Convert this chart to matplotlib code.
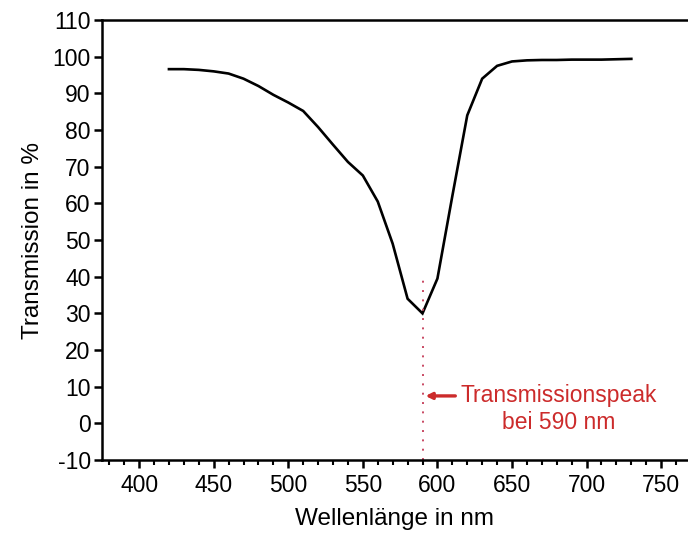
import numpy as np
import matplotlib.pyplot as plt
from matplotlib.ticker import MultipleLocator

plt.rcParams['font.family'] = ['Liberation Sans', 'DejaVu Sans']
plt.rcParams['axes.unicode_minus'] = False

# Transmission spectrum
wavelength = [420, 430, 440, 450, 460, 470, 480, 490, 500, 510, 520, 530, 540,
              550, 560, 570, 580, 590, 600, 610, 620, 630, 640, 650, 660, 670,
              680, 690, 700, 710, 720, 730]
transmission = [96.6, 96.6, 96.4, 96.0, 95.4, 94.0, 92.0, 89.6, 87.5, 85.2, 80.8,
                76.0, 71.3, 67.6, 60.5, 49.0, 34.0, 30.0, 39.5, 62.0, 84.0, 94.0,
                97.5, 98.7, 99.0, 99.1, 99.1, 99.2, 99.2, 99.2, 99.3, 99.4]

peak_nm = 590
peak_line_top = 40
label_lines = ["Transmissionspeak", "bei 590 nm"]

fig = plt.figure(figsize=(6.88, 5.35), dpi=100)
ax = fig.add_axes([0.148, 0.140, 0.852, 0.8226])

ax.plot(wavelength, transmission, color='black', lw=1.9, solid_joinstyle='miter')
ax.plot([peak_nm, peak_nm], [-10, peak_line_top], color='#c84862', lw=1.4,
        ls=(0, (1, 3.8)))

ax.annotate('', xy=(peak_nm + 2, 7.5), xytext=(612, 7.5),
            arrowprops=dict(arrowstyle='-|>', color='#cc2b2b', lw=2.4,
                            mutation_scale=9, shrinkA=0, shrinkB=0))
ax.text(681, 7.5, label_lines[0], color='#cc2b2b', fontsize=16.5,
        ha='center', va='center')
ax.text(681, 0.2, label_lines[1], color='#cc2b2b', fontsize=16.5,
        ha='center', va='center')

ax.set_xlim(375, 768)
ax.set_ylim(-10, 110)
ax.xaxis.set_major_locator(MultipleLocator(50))
ax.xaxis.set_minor_locator(MultipleLocator(10))
ax.yaxis.set_major_locator(MultipleLocator(10))

for s in ['left', 'bottom', 'top']:
    ax.spines[s].set_linewidth(1.8)
ax.spines['right'].set_visible(False)

ax.tick_params(axis='both', which='major', direction='out', length=6, width=1.8,
               labelsize=16.5, pad=2)
ax.tick_params(axis='x', which='minor', direction='out', length=3.5, width=1.5)
ax.tick_params(axis='x', which='major', pad=4)

ax.set_xlabel('Wellenlänge in nm', fontsize=17.5, labelpad=8)
ax.set_ylabel('Transmission in %', fontsize=17.5, labelpad=6)

fig.savefig('out.png', dpi=100)
